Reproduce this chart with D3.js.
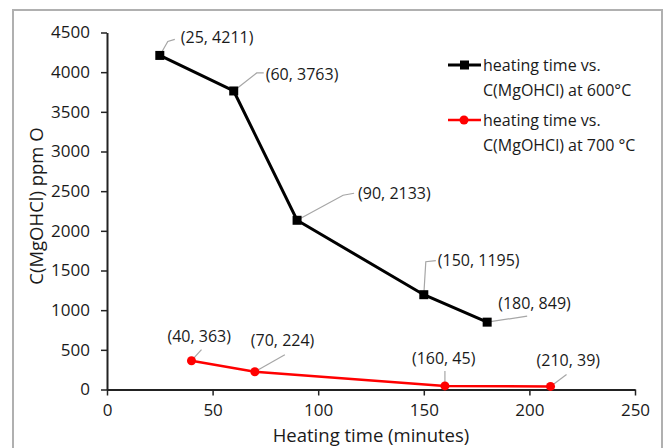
<!DOCTYPE html>
<html>
<head>
<meta charset="utf-8">
<script src="https://cdn.jsdelivr.net/npm/d3@7"></script>
<style>
body{margin:0;background:#fff;}
text{font-family:"Open Sans",sans-serif;fill:#1a1a1a;}
</style>
</head>
<body>
<svg id="chart" width="665" height="448"></svg>
<script>
// data
var time600 = [25, 60, 90, 150, 180];
var conc600 = [4211, 3763, 2133, 1195, 849];
var time700 = [40, 70, 160, 210];
var conc700 = [363, 224, 45, 39];
var xTicks = [0, 50, 100, 150, 200, 250];
var yTicks = [0, 500, 1000, 1500, 2000, 2500, 3000, 3500, 4000, 4500];
var seriesNames = ["heating time vs.|C(MgOHCl) at 600°C", "heating time vs.|C(MgOHCl) at 700 °C"];

// label placement: text offset from point, and leader line bends (pixels, relative to point)
var off600 = [[21,-18],[32,-17],[61,-27],[14,-34],[11,-19]];
var off700 = [[-24,-24],[-4,-31],[-33,-28],[-14,-26]];
var lead600 = [[[8,-14],[15,-16]], [[23,-18],[30,-18]], [[46,-25],[57,-27]], [[2,-33],[12,-34]], [[40,-6]]];
var lead700 = [[[10,-11]], [[30,-17]], [[0,-15]], [[16,-12]]];

var svg = d3.select("#chart");

// outer frame
svg.append("rect").attr("x",13).attr("y",10).attr("width",649).attr("height",460)
   .attr("fill","none").attr("stroke","#b0b0b0").attr("stroke-width",2);

var x = d3.scaleLinear().domain([0,250]).range([107,635]);
var y = d3.scaleLinear().domain([0,4500]).range([389.5,32.5]);

// y axis
var gy = svg.append("g").attr("transform","translate(107,0)")
   .call(d3.axisLeft(y).tickValues(yTicks).tickFormat(d3.format("d")).tickSize(6).tickPadding(11).tickSizeOuter(0));
// x axis
var gx = svg.append("g").attr("transform","translate(0,389.5)")
   .call(d3.axisBottom(x).tickValues(xTicks).tickFormat(d3.format("d")).tickSize(6).tickPadding(8).tickSizeOuter(0));
[gx,gy].forEach(function(g){
  g.select(".domain").attr("stroke","#222").attr("stroke-width",2);
  g.selectAll(".tick line").attr("stroke","#222").attr("stroke-width",1.5);
  g.selectAll(".tick text").style("font-size","17px").style("font-family","Open Sans").attr("fill","#1a1a1a");
});

// axis titles
svg.append("text").attr("x",371).attr("y",442).attr("text-anchor","middle")
   .style("font-size","18.5px").text("Heating time (minutes)");
svg.append("text").attr("transform","translate(43,206) rotate(-90)").attr("text-anchor","middle")
   .style("font-size","18.5px").text("C(MgOHCl) ppm O");

var line = d3.line().x(function(d){return x(d[0]);}).y(function(d){return y(d[1]);});
var pts600 = d3.zip(time600, conc600);
var pts700 = d3.zip(time700, conc700);

// leader lines drawn as polylines from the points
function leaders(pts, ends){
  pts.forEach(function(p,i){
    var px = x(p[0]), py = y(p[1]);
    var e = ends[i];
    svg.append("polyline")
       .attr("points", [[px,py]].concat(e.map(function(q){return [px+q[0],py+q[1]];})).join(" "))
       .attr("fill","none").attr("stroke","#a6a6a6").attr("stroke-width",1.2);
  });
}
function labels(pts, offs){
  pts.forEach(function(p,i){
    svg.append("text").attr("x",x(p[0]) + offs[i][0]).attr("y",y(p[1]) + offs[i][1]).attr("dy","0.35em")
       .style("font-size","16px").text("(" + p[0] + ", " + p[1] + ")");
  });
}
leaders(pts600, lead600);
leaders(pts700, lead700);

svg.append("path").datum(pts600).attr("d",line).attr("fill","none")
   .attr("stroke","#000").attr("stroke-width",3);
svg.append("path").datum(pts700).attr("d",line).attr("fill","none")
   .attr("stroke","#ff0000").attr("stroke-width",2.5);

svg.selectAll(".sq").data(pts600).enter().append("rect")
   .attr("x",function(d){return x(d[0])-4.5;}).attr("y",function(d){return y(d[1])-4.5;})
   .attr("width",9).attr("height",9).attr("fill","#000");
svg.selectAll(".ci").data(pts700).enter().append("circle")
   .attr("cx",function(d){return x(d[0]);}).attr("cy",function(d){return y(d[1]);})
   .attr("r",4.5).attr("fill","#ff0000");

labels(pts600, off600);
labels(pts700, off700);

// legend
var leg = [{c:"#000", w:3, m:"sq"}, {c:"#ff0000", w:2.5, m:"ci"}];
leg.forEach(function(l,i){
  var ly = 65 + i*55;
  svg.append("line").attr("x1",448).attr("x2",481).attr("y1",ly).attr("y2",ly)
     .attr("stroke",l.c).attr("stroke-width",l.w);
  if (l.m=="sq") svg.append("rect").attr("x",460).attr("y",ly-4.5).attr("width",9).attr("height",9).attr("fill",l.c);
  else svg.append("circle").attr("cx",464).attr("cy",ly).attr("r",4.5).attr("fill",l.c);
  var parts = seriesNames[i].split("|");
  parts.forEach(function(s,j){
    svg.append("text").attr("x",483).attr("y",ly + j*25).attr("dy","0.35em")
       .style("font-size","16px").text(s);
  });
});
</script>
</body>
</html>
